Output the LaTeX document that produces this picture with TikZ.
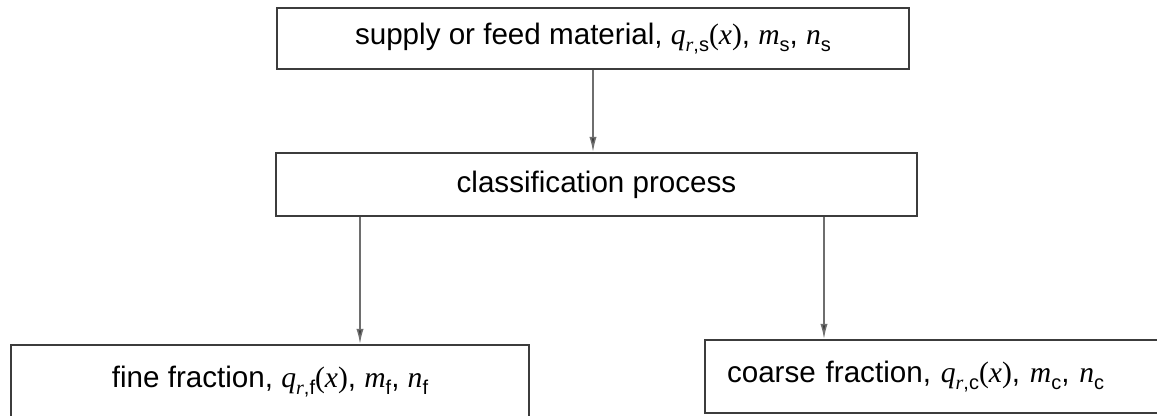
\documentclass[tikz,border=0pt]{standalone}
\usepackage{fontspec}
\setmainfont{Liberation Sans}
\newfontfamily\timesfont{Liberation Serif}
\newcommand{\nvar}[1]{{\timesfont\itshape #1}}
\newcommand{\nsub}[1]{\raisebox{-0.45ex}{\fontsize{10}{10}\selectfont #1}}
\newcommand{\narg}[1]{{\timesfont(}\nvar{#1}{\timesfont)}}
\usetikzlibrary{arrows.meta}

\begin{document}
\begin{tikzpicture}[x=0.5pt,y=-0.5pt,
  flowbox/.style={draw=boxline,line width=1pt,inner sep=0pt,font=\fontsize{14.8}{18}\selectfont},
  flowarrow/.style={draw=arrowline,line width=0.75pt,-{Latex[length=7.5pt,width=3.6pt,fill=boxline]}}]
\definecolor{boxline}{HTML}{3C3C3C}
\definecolor{arrowline}{HTML}{6E6E6E}
\path[use as bounding box,clip] (0,0) rectangle (1157,416);
\node [flowbox,minimum width=316pt,minimum height=30.5pt] (feed) at (593,38.5)
  {supply or feed material, \nvar{q}\nsub{\nvar{r},s}\narg{x}, \nvar{m}\nsub{s}, \nvar{n}\nsub{s}};
\node [flowbox,minimum width=320.5pt,minimum height=31.5pt] (process) at (596.5,184.5)
  {classification process};
\node [flowbox,minimum width=259pt,minimum height=37pt] (fine) at (270,382)
  {fine fraction, \nvar{q}\nsub{\nvar{r},f}\narg{x}, \nvar{m}\nsub{f}, \nvar{n}\nsub{f}};
\node [flowbox,inner xsep=11pt,text width=215.5pt,align=left,minimum height=36.5pt] (coarse) at (942.5,376.5)
  {coarse fraction, \nvar{q}\nsub{\nvar{r},c}\narg{x}, \nvar{m}\nsub{c}, \nvar{n}\nsub{c}};
% connectors
\coordinate (fineout) at (360,0);
\coordinate (coarseout) at (824,0);
\draw[flowarrow] (feed.south) -- (feed.south |- process.north);
\draw[flowarrow] (process.south -| fineout) -- (fine.north -| fineout);
\draw[flowarrow] (process.south -| coarseout) -- (coarse.north -| coarseout);
\end{tikzpicture}
\end{document}
